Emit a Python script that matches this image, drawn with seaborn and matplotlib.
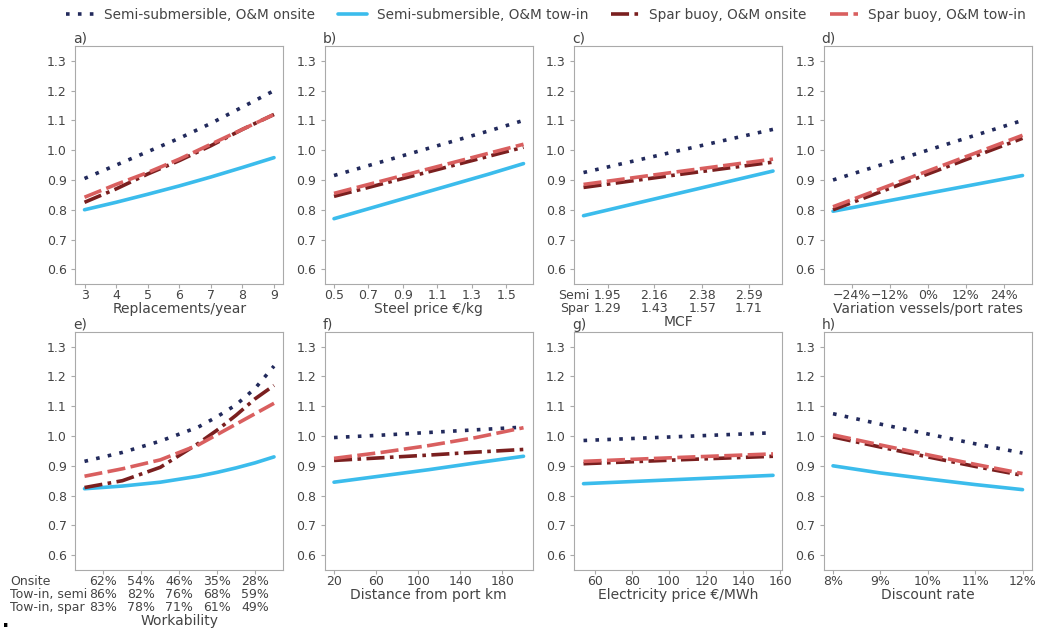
import numpy as np
import pandas as pd
import matplotlib.pyplot as plt
import seaborn as sns


series_names = ['Semi-submersible, O&M onsite', 'Semi-submersible, O&M tow-in',
                'Spar buoy, O&M onsite', 'Spar buoy, O&M tow-in']
colors = ['#222a5c', '#3bbcec', '#7a1f1f', '#d95f5f']
styles = [(0, (1, 2.3)), '-', (0, (5, 1.5, 1, 1.5)), (0, (5, 1.5))]

# a) replacements per year
a_x = [3, 4, 5, 6, 7, 8, 9]
a_semi_onsite = [0.905, 0.950, 0.995, 1.040, 1.090, 1.145, 1.200]
a_semi_towin = [0.800, 0.825, 0.852, 0.880, 0.910, 0.942, 0.975]
a_spar_onsite = [0.825, 0.870, 0.920, 0.965, 1.015, 1.070, 1.120]
a_spar_towin = [0.842, 0.885, 0.925, 0.970, 1.020, 1.070, 1.120]

# b) steel price
b_x = [0.5, 0.8, 1.1, 1.4, 1.6]
b_semi_onsite = [0.915, 0.965, 1.015, 1.065, 1.100]
b_semi_towin = [0.770, 0.820, 0.870, 0.920, 0.955]
b_spar_onsite = [0.845, 0.890, 0.935, 0.980, 1.010]
b_spar_towin = [0.855, 0.900, 0.945, 0.990, 1.020]

# c) MCF (semi scale)
c_x = [1.84, 2.27, 2.70]
c_semi_onsite = [0.925, 0.998, 1.070]
c_semi_towin = [0.780, 0.855, 0.930]
c_spar_onsite = [0.875, 0.918, 0.960]
c_spar_towin = [0.885, 0.928, 0.970]
c_ticks = [1.95, 2.16, 2.38, 2.59]
c_labels = ['1.95\n1.29', '2.16\n1.43', '2.38\n1.57', '2.59\n1.71']

# d) variation vessels/port rates
d_x = [-30, 0, 30]
d_semi_onsite = [0.900, 1.000, 1.100]
d_semi_towin = [0.795, 0.855, 0.915]
d_spar_onsite = [0.800, 0.920, 1.040]
d_spar_towin = [0.810, 0.930, 1.050]
d_ticks = [-24, -12, 0, 12, 24]
d_labels = ['\u221224%', '\u221212%', '0%', '12%', '24%']

# e) workability
e_x = [0, 1, 2, 3, 3.5, 4, 4.5, 5]
e_semi_onsite = [0.915, 0.945, 0.983, 1.030, 1.065, 1.105, 1.160, 1.235]
e_semi_towin = [0.823, 0.832, 0.845, 0.865, 0.878, 0.893, 0.910, 0.930]
e_spar_onsite = [0.827, 0.850, 0.895, 0.975, 1.020, 1.070, 1.125, 1.170]
e_spar_towin = [0.865, 0.890, 0.920, 0.970, 1.005, 1.040, 1.075, 1.110]
e_ticks = [0.5, 1.5, 2.5, 3.5, 4.5]
e_labels = ['62%\n86%\n83%', '54%\n82%\n78%', '46%\n76%\n71%', '35%\n68%\n61%', '28%\n59%\n49%']

# f) distance from port
f_x = [20, 65, 110, 155, 200]
f_semi_onsite = [0.995, 1.003, 1.012, 1.021, 1.030]
f_semi_towin = [0.845, 0.866, 0.887, 0.910, 0.932]
f_spar_onsite = [0.918, 0.927, 0.936, 0.946, 0.955]
f_spar_towin = [0.925, 0.945, 0.968, 0.995, 1.028]

# g) electricity price
g_x = [54, 105, 156]
g_semi_onsite = [0.985, 0.998, 1.011]
g_semi_towin = [0.840, 0.854, 0.868]
g_spar_onsite = [0.907, 0.920, 0.932]
g_spar_towin = [0.915, 0.928, 0.940]

# h) discount rate
h_x = [8, 9, 10, 11, 12]
h_semi_onsite = [1.075, 1.040, 1.007, 0.974, 0.943]
h_semi_towin = [0.900, 0.876, 0.856, 0.837, 0.820]
h_spar_onsite = [0.997, 0.963, 0.930, 0.898, 0.868]
h_spar_towin = [1.004, 0.970, 0.937, 0.905, 0.874]

panels = [
    ('a)', a_x, [a_semi_onsite, a_semi_towin, a_spar_onsite, a_spar_towin], 'Replacements/year',
     [3, 4, 5, 6, 7, 8, 9], None),
    ('b)', b_x, [b_semi_onsite, b_semi_towin, b_spar_onsite, b_spar_towin], 'Steel price \u20ac/kg',
     [0.5, 0.7, 0.9, 1.1, 1.3, 1.5], None),
    ('c)', c_x, [c_semi_onsite, c_semi_towin, c_spar_onsite, c_spar_towin], 'MCF', c_ticks, c_labels),
    ('d)', d_x, [d_semi_onsite, d_semi_towin, d_spar_onsite, d_spar_towin], 'Variation vessels/port rates',
     d_ticks, d_labels),
    ('e)', e_x, [e_semi_onsite, e_semi_towin, e_spar_onsite, e_spar_towin], 'Workability', e_ticks, e_labels),
    ('f)', f_x, [f_semi_onsite, f_semi_towin, f_spar_onsite, f_spar_towin], 'Distance from port km',
     [20, 60, 100, 140, 180], None),
    ('g)', g_x, [g_semi_onsite, g_semi_towin, g_spar_onsite, g_spar_towin], 'Electricity price \u20ac/MWh',
     [60, 80, 100, 120, 140, 160], None),
    ('h)', h_x, [h_semi_onsite, h_semi_towin, h_spar_onsite, h_spar_towin], 'Discount rate',
     [8, 9, 10, 11, 12], ['8%', '9%', '10%', '11%', '12%']),
]

sns.set_style('ticks')
plt.rcParams['font.family'] = ['DejaVu Sans']
plt.rcParams.update({
    'axes.edgecolor': '#aaaaaa',
    'xtick.color': '#444444',
    'ytick.color': '#444444',
    'text.color': '#444444',
    'axes.labelcolor': '#444444',
    'xtick.major.size': 3,
    'ytick.major.size': 3,
    'xtick.major.pad': 0.8,
    'ytick.major.pad': 3,
})

tick_fs = 9
label_fs = 10
multi_ls = 1.0

fig, axes = plt.subplots(2, 4, figsize=(10.38, 6.3), dpi=100)
fig.subplots_adjust(left=0.0723, right=0.9942, top=0.927, bottom=0.0952, wspace=0.197, hspace=0.2)

for ax, (letter, x, ys, xlabel, ticks, labels) in zip(axes.flat, panels):
    for name, color, ls, y in zip(series_names, colors, styles, ys):
        sns.lineplot(x=x, y=y, ax=ax, color=color, linestyle=ls, lw=2.6, label=name)
    if ax.get_legend() is not None:
        ax.get_legend().remove()
    ax.set_ylim(0.55, 1.35)
    ax.set_yticks([0.6, 0.7, 0.8, 0.9, 1.0, 1.1, 1.2, 1.3])
    ax.set_xticks(ticks)
    if labels is not None:
        ax.set_xticklabels(labels, linespacing=multi_ls)
    ax.tick_params(labelsize=tick_fs, color='#aaaaaa', labelcolor='#444444')
    ax.set_xlabel(xlabel, fontsize=label_fs, labelpad=0)
    ax.set_ylabel('')
    ax.set_title(letter, loc='left', fontsize=label_fs, pad=2, x=-0.01)
    for sp in ax.spines.values():
        sp.set_visible(True)
        sp.set_color('#aaaaaa')

axes[0, 2].text(0.0, -0.02, 'Semi\nSpar', transform=axes[0, 2].transAxes,
                ha='center', va='top', fontsize=tick_fs, linespacing=multi_ls)
axes[1, 0].text(-0.3125, -0.02, 'Onsite\nTow-in, semi\nTow-in, spar', transform=axes[1, 0].transAxes,
                ha='left', va='top', fontsize=tick_fs, linespacing=multi_ls)

handles, lbls = axes[0, 0].get_legend_handles_labels()
fig.legend(handles, lbls, loc='center', ncol=4, frameon=False, fontsize=9.8,
           bbox_to_anchor=(0.526, 0.976), handlelength=2.1, handletextpad=0.7, columnspacing=1.7)
fig.text(0.002, 0.004, '.', fontsize=14, fontweight='bold', color='black')

fig.savefig('out.png', dpi=100)
